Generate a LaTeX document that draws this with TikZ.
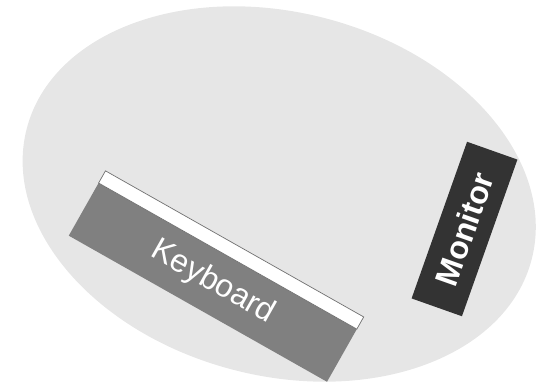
\documentclass[tikz,border=0pt]{standalone}
\usepackage{fontspec}
\setmainfont{Liberation Sans}
\usetikzlibrary{shapes.geometric}
\definecolor{deskgray}{HTML}{E6E6E6}
\definecolor{kbgray}{HTML}{808080}
\definecolor{mongray}{HTML}{333333}
\definecolor{edgegray}{HTML}{707070}
\tikzset{
  desk/.style={ellipse, fill=deskgray, inner sep=0pt, outer sep=0pt,
    minimum width=521.6pt, minimum height=363.4pt},
  kbd/.style={rectangle, fill=kbgray, inner sep=0pt, outer sep=0pt,
    minimum width=296.7pt, minimum height=60.5pt, text=white,
    font=\fontsize{32}{38}\selectfont},
  kbstrip/.style={rectangle, fill=white, draw=edgegray, line width=0.7pt,
    inner sep=0pt, outer sep=0pt, minimum width=296.7pt, minimum height=14pt},
  monitorbox/.style={rectangle, fill=mongray, inner sep=0pt, outer sep=0pt,
    minimum width=166.2pt, minimum height=53.4pt, text=white,
    font=\fontsize{32}{38}\selectfont\bfseries}
}
\begin{document}
\begin{tikzpicture}[x=1pt,y=-1pt]
\useasboundingbox (0,0) rectangle (540,385);
\node[desk, rotate=-14.5] (desk) at (279.2,194) {};
\node[kbd, rotate=-29.5] (kb) at (212.8,282.4) {Keyboard};
\node[kbstrip, rotate=-29.5, anchor=south] (strip) at (kb.north) {};
\node[monitorbox, rotate=70.5] (mon) at (464.5,229) {Monitor};
\end{tikzpicture}
\end{document}
